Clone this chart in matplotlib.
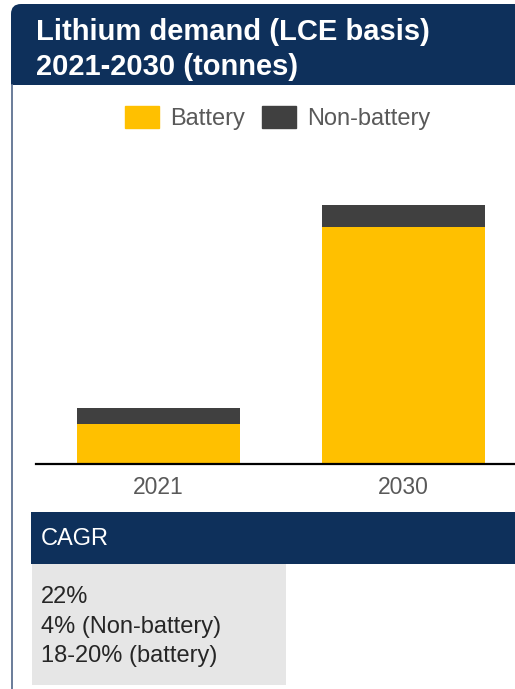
import matplotlib
matplotlib.use("Agg")
import matplotlib.pyplot as plt
from matplotlib.patches import Rectangle, FancyBboxPatch, Patch

plt.rcParams['font.family'] = ['Liberation Sans', 'DejaVu Sans']

# lithium demand, thousand tonnes LCE
years = ['2021', '2030']
battery = [390, 2290]
non_battery = [155, 215]

title_lines = ['Lithium demand (LCE basis)', '2021-2030 (tonnes)']
cagr_lines = ['22%', '4% (Non-battery)', '18-20% (battery)']

navy = '#0E305B'
yellow = '#FFC000'
dark = '#404040'

W, H = 515, 689
fig = plt.figure(figsize=(W / 100, H / 100), dpi=100)

# background layer in pixel coordinates (y downwards)
bg = fig.add_axes([0, 0, 1, 1])
bg.set_xlim(0, W)
bg.set_ylim(H, 0)
bg.axis('off')

# title header with rounded top-left corner
bg.add_patch(FancyBboxPatch((11, 4), 540, 50, boxstyle='round,pad=0,rounding_size=10',
                            fc=navy, ec='none'))
bg.add_patch(Rectangle((11, 30), 540, 55, fc=navy, ec='none'))
bg.plot([11.5, 11.5], [85, H], color='#5E7291', lw=1.3)
for i, line in enumerate(title_lines):
    bg.text(36, 40 + 35 * i, line, color='white', fontsize=21, fontweight='bold',
            va='baseline', ha='left')

# CAGR panel
bg.add_patch(Rectangle((31, 512), 500, 52, fc=navy, ec='none'))
bg.text(41, 539, 'CAGR', color='white', fontsize=17, va='center', ha='left')
bg.add_patch(Rectangle((32, 564), 254, 121, fc='#E6E6E6', ec='none'))
for i, line in enumerate(cagr_lines):
    bg.text(41, 603 + 29.5 * i, line, color='#262626', fontsize=17,
            va='baseline', ha='left')

# bar chart
ax = fig.add_axes([36 / W, (H - 464) / H, (W - 36) / W, (464 - 150) / H])
ax.patch.set_alpha(0)
x = range(len(years))
b1 = ax.bar(x, battery, width=0.665, color=yellow, label='Battery')
b2 = ax.bar(x, non_battery, width=0.665, bottom=battery, color=dark, label='Non-battery')
ax.set_xlim(-0.5, 1.455)
ax.set_ylim(0, 3040)
ax.set_xticks(list(x))
ax.set_xticklabels(years, fontsize=16.5, color='#595959')
ax.tick_params(axis='x', length=0, pad=9)
ax.set_yticks([])
for side in ['top', 'left', 'right']:
    ax.spines[side].set_visible(False)
ax.spines['bottom'].set_linewidth(1.6)
ax.spines['bottom'].set_color('black')

fig.legend(handles=[Patch(color=yellow), Patch(color=dark)], labels=['Battery', 'Non-battery'],
           loc='center', bbox_to_anchor=(278 / W, 1 - 118 / H), ncol=2, frameon=False,
           fontsize=17, labelcolor='#595959', handlelength=1.44, handleheight=1.1,
           handletextpad=0.47, columnspacing=0.72)

fig.savefig('out.png', dpi=100)
